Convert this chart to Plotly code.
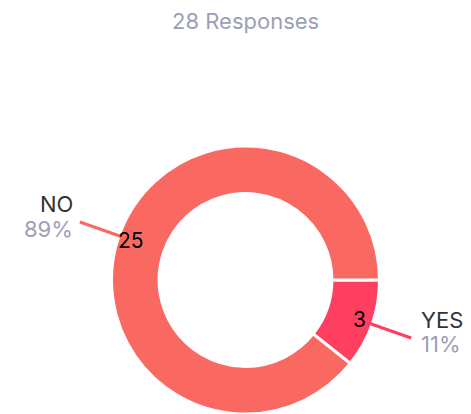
import math
import plotly.graph_objects as go

# ---- data ----
labels = ["YES", "NO"]
values = [3, 25]
colors = ["#FF3F5F", "#FA6961"]
title_suffix = "Responses"

# ---- layout constants (page pixel coordinates) ----
PAGE_OFF = 8               # default body margin of the html page
W, H = 471 - PAGE_OFF, 414 - PAGE_OFF
cx, cy, R = 245.5, 280.0, 134.0
HOLE = 0.645
BORDER = 3
FONT = "Inter"
GRAY = "#9C9FB7"
DARK = "#333333"


def px(x):
    return (x - PAGE_OFF) / W


def py(y):
    return 1 - (y - PAGE_OFF) / H


total = sum(values)

fig = go.Figure()
fig.add_trace(go.Pie(
    labels=labels, values=values, sort=False, direction="clockwise", rotation=90,
    hole=HOLE,
    marker=dict(colors=colors, line=dict(color="white", width=BORDER)),
    textinfo="none",
    showlegend=False, hoverinfo="label+value+percent",
    domain=dict(x=[px(cx - R), px(cx + R)], y=[0, py(cy - R)]),
))

# leader lines, values and outside labels, positioned from the slice mid-angles
shapes, annotations = [], []
r_tip = R - BORDER / 2
r_tail = 175.5
r_val = 121
cum = 0
for lab, v, col in zip(labels, values, colors):
    frac_mid = (cum + v / 2) / total
    cum += v
    theta = -2 * math.pi * frac_mid  # clockwise from 3 o'clock
    c, s = math.cos(theta), math.sin(theta)
    x0, y0 = cx + r_tip * c, cy - r_tip * s
    x1, y1 = cx + r_tail * c, cy - r_tail * s
    shapes.append(dict(type="line", xref="paper", yref="paper",
                       x0=px(x0), y0=py(y0), x1=px(x1), y1=py(y1),
                       line=dict(color=col, width=3)))
    # value inside the ring
    annotations.append(dict(
        xref="paper", yref="paper", x=px(cx + r_val * c), y=py(cy - r_val * s),
        text=str(v), showarrow=False, xanchor="center", yanchor="middle",
        font=dict(family=FONT, size=21, color="black")))
    right = c >= 0
    lx = x1 + (8 if right else -5)
    pct = round(100 * v / total)
    common = dict(xref="paper", yref="paper", x=px(lx), showarrow=False,
                  xanchor="left" if right else "right", yanchor="middle")
    annotations.append(dict(common, y=py(y1 - 18), text=lab,
                            font=dict(family=FONT, size=22, color=DARK)))
    annotations.append(dict(common, y=py(y1 + 6.5), text=f"{pct}%",
                            font=dict(family=FONT, size=22, color=GRAY)))

annotations.append(dict(
    xref="paper", yref="paper", x=px(cx), y=1,
    text=f"{total} {title_suffix}", showarrow=False,
    xanchor="center", yanchor="top", borderpad=0, borderwidth=0,
    font=dict(family=FONT, size=22, color=GRAY)))

fig.update_layout(
    width=W, height=H, margin=dict(l=0, r=0, t=0, b=0),
    paper_bgcolor="white", plot_bgcolor="white",
    shapes=shapes, annotations=annotations,
)

fig.write_html("out.html")
